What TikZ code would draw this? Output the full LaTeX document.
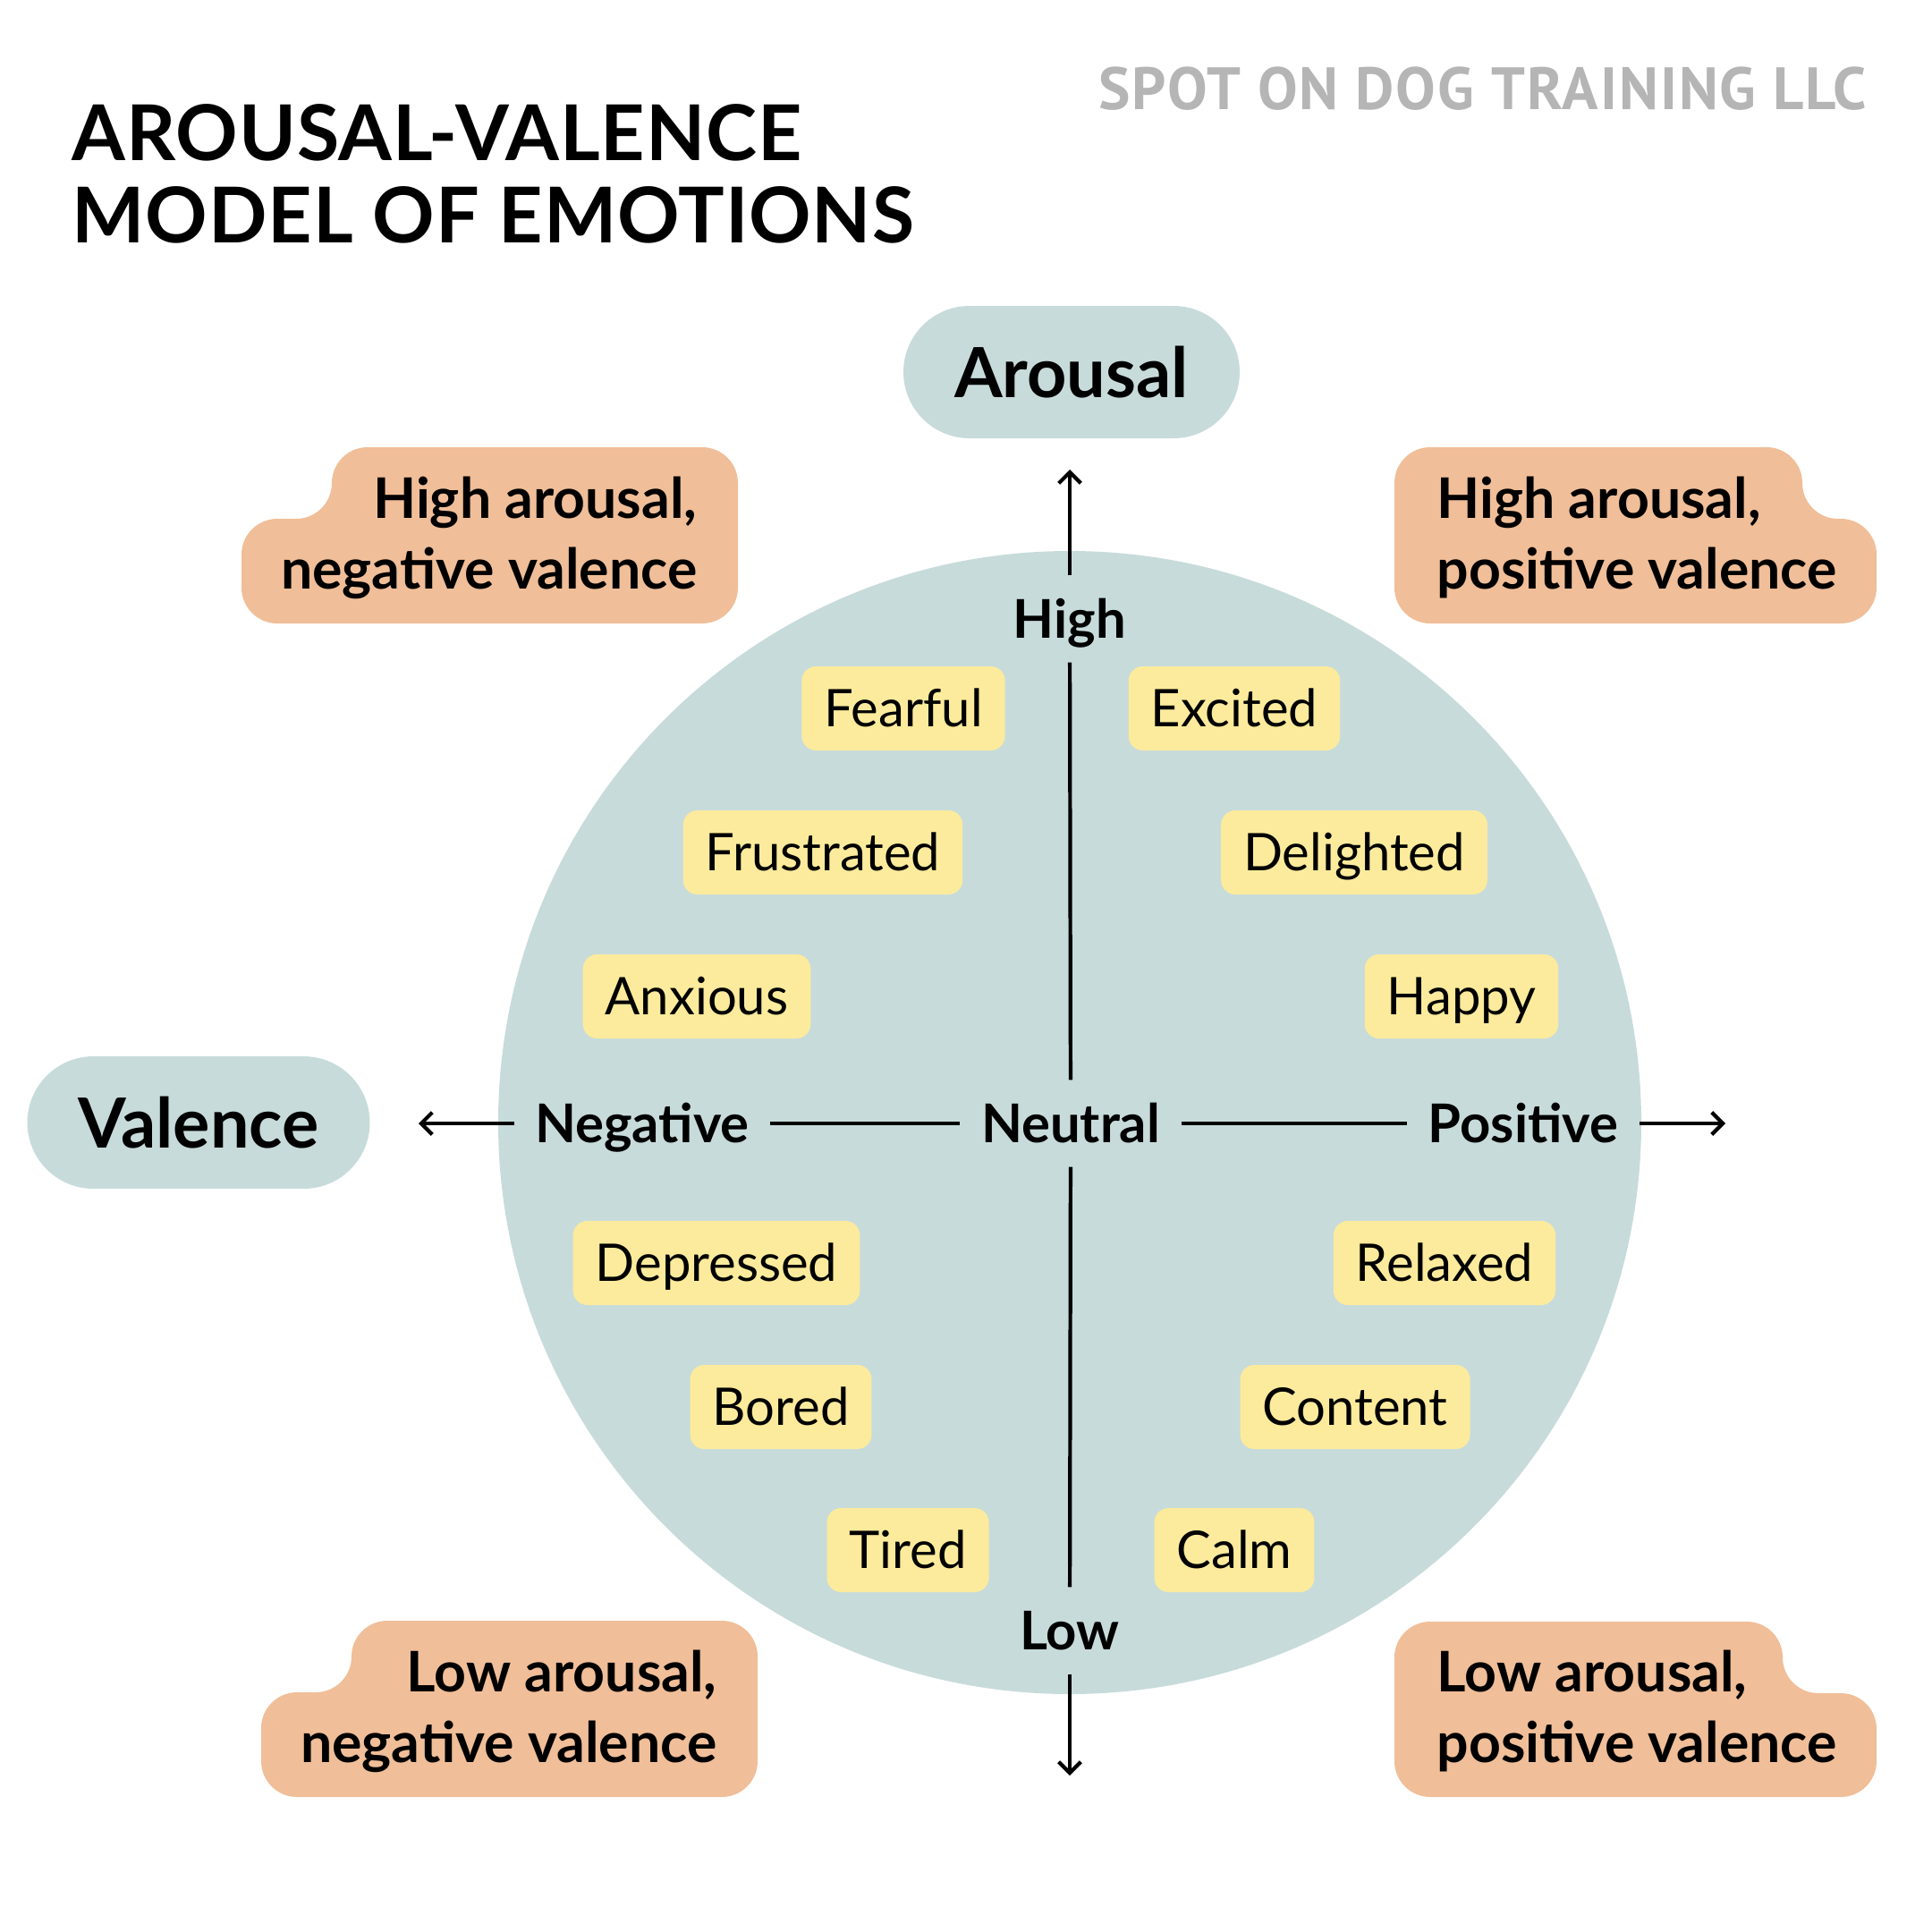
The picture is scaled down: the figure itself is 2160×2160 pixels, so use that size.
\documentclass[tikz,border=0pt]{standalone}
\usepackage{fontspec}
\setmainfont{Lato}
\newfontfamily\titlefont[LetterSpace=1]{Lato}
\newfontfamily\brandfont[LetterSpace=3]{PT Sans}
\usetikzlibrary{arrows.meta}

\definecolor{mist}{HTML}{C8DBDB}
\definecolor{lemon}{HTML}{FCEB9C}
\definecolor{peach}{HTML}{F0BE98}
\definecolor{brandgray}{HTML}{B5B5B5}

\begin{document}
\begin{tikzpicture}[x=0.1mm, y=-0.1mm,
  emo/.style={fill=lemon, rounded corners=1.6mm, minimum height=9.4mm, inner xsep=2.5mm,
    text height=13.4pt, text depth=2pt, font=\fontsize{16.5}{20}\selectfont},
  axislbl/.style={inner xsep=2.3mm, inner ysep=1.95mm, text height=14.2pt, text depth=2pt,
    font=\bfseries\fontsize{17}{20}\selectfont},
  pill/.style={fill=mist, rounded corners=7.4mm, minimum height=14.8mm,
    font=\bfseries\fontsize{22}{26}\selectfont},
  quad/.style={inner sep=0pt, font=\bfseries\fontsize{17.8}{22.5}\selectfont},
  axis/.style={line width=1.2pt},
  tip/.style={axis, -{Straight Barb[length=3.5pt, width=7pt, line width=1.2pt]}}
]
  \useasboundingbox (0,0) rectangle (2160,2160);

  % titles
  \node[anchor=west, align=left, inner sep=0pt,
    font=\titlefont\bfseries\fontsize{24.5}{26.2}\selectfont]
    (title) at (80,194) {AROUSAL-VALENCE\\MODEL OF EMOTIONS};
  \node[anchor=east, inner sep=0pt, text=brandgray,
    font=\brandfont\bfseries\fontsize{19}{22}\selectfont]
    (brand) at (2087,99) {SPOT ON DOG TRAINING LLC};

  % circle
  \fill[mist] (1196,1255) circle (639);

  % axis names
  \node[pill, minimum width=37.6mm] (arousal) at (1198,416) {Arousal};
  \node[pill, minimum width=38.3mm] (valence) at (222,1255) {Valence};

  % quadrant boxes
  \fill[peach, rounded corners=4mm] (600,500) -- (825,500) -- (825,697) -- (270,697)
    -- (270,580) -- (371,580) -- (371,500) -- cycle;
  \fill[peach, rounded corners=4mm] (1800,500) -- (2015,500) -- (2015,580) -- (2098,580)
    -- (2098,697) -- (1559,697) -- (1559,500) -- cycle;
  \fill[peach, rounded corners=4mm] (600,1812) -- (847,1812) -- (847,2009) -- (292,2009)
    -- (292,1892) -- (393,1892) -- (393,1812) -- cycle;
  \fill[peach, rounded corners=4mm] (1800,1813) -- (1993,1813) -- (1993,1893) -- (2098,1893)
    -- (2098,2009) -- (1559,2009) -- (1559,1813) -- cycle;
  \node[quad, anchor=east, align=right] (hineg) at (780,601) {High arousal,\\negative valence};
  \node[quad, anchor=west, align=left] (hipos) at (1606,601) {High arousal,\\positive valence};
  \node[quad, anchor=east, align=right] (loneg) at (802,1913) {Low arousal,\\negative valence};
  \node[quad, anchor=west, align=left] (lopos) at (1606,1913) {Low arousal,\\positive valence};

  % emotions
  \foreach \nm/\x/\y in {Fearful/1010/792, Excited/1380/792, Frustrated/920/953,
      Delighted/1514/953, Anxious/779/1114, Happy/1634/1114, Depressed/801/1412,
      Relaxed/1615/1412, Bored/873/1573, Content/1515/1573, Tired/1015/1733, Calm/1380/1733}
    \node[emo] (\nm) at (\x,\y) {\nm};

  % axes
  \node[axislbl] (high) at (1196,692) {High};
  \node[axislbl] (low) at (1196,1823) {Low};
  \node[axislbl] (neg) at (718,1256) {Negative};
  \node[axislbl] (neutral) at (1197,1256) {Neutral};
  \node[axislbl] (pos) at (1703,1256) {Positive};
  \coordinate (top) at (1196,525);
  \coordinate (bottom) at (1196,1985);
  \coordinate (left) at (468,1256);
  \coordinate (right) at (1929,1256);

  \draw[tip] (high) -- (top);
  \draw[tip] (low) -- (bottom);
  \draw[tip] (neg) -- (left);
  \draw[tip] (pos) -- (right);
  \draw[axis] (high) -- (neutral);
  \draw[axis] (neutral) -- (low);
  \draw[axis] (neg) -- (neutral);
  \draw[axis] (neutral) -- (pos);
\end{tikzpicture}
\end{document}
